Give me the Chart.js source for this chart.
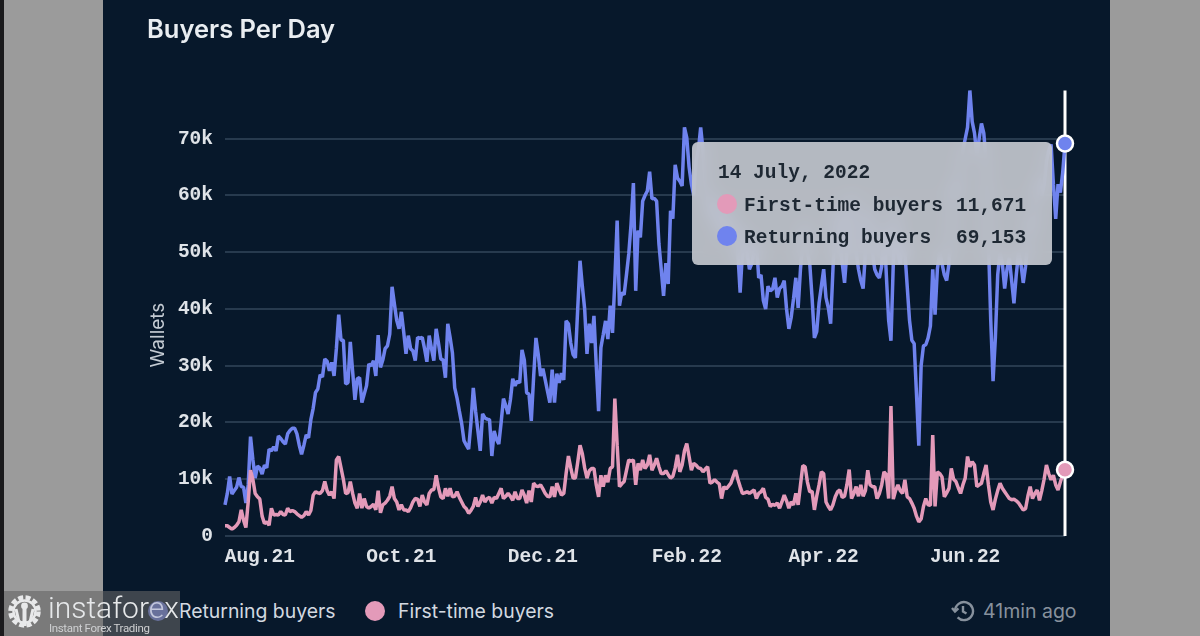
<!DOCTYPE html>
<html>
<head>
<meta charset="utf-8">
<title>Buyers Per Day</title>
<script src="https://cdn.jsdelivr.net/npm/chart.js@4"></script>
<style>
    html, body { margin: 0; padding: 0; width: 1200px; height: 636px; overflow: hidden; background: #9b9b9b; }
    #strip { position: absolute; left: 0; top: 0; width: 4px; height: 636px; background: #1a1a1c; }
    #panel { position: absolute; left: 103px; top: 0; width: 1007px; height: 636px; background: #07182b; }
    #panel canvas { position: absolute; left: 0; top: 0; }
    .label { position: absolute; white-space: nowrap; font-family: Inter, sans-serif; }
    #title { left: 44px; top: 13px; font-size: 25.5px; line-height: 32px; font-weight: 600; color: #e9edf1; }
    #yTitle { left: 55px; top: 335px; font-size: 19px; line-height: 20px; color: #c3cad2; transform: translate(-50%, -50%) rotate(-90deg); }
    .legendItem { top: 599px; font-size: 19.4px; line-height: 24px; color: #d3d9e0; }
    .dot { position: absolute; border-radius: 50%; }
    #updated { left: 880px; top: 599px; font-size: 19.5px; line-height: 24px; color: #87919d; }
    #clock { position: absolute; left: 848px; top: 599px; }
    #tooltip {
        position: absolute; left: 589px; top: 142px; width: 360px; height: 123px;
        border-radius: 6px; background: rgba(200, 203, 210, 0.9); backdrop-filter: blur(8px);
        font-family: "Liberation Mono", monospace; font-size: 19.5px; color: #1e2833; font-weight: 700;
    }
    #tooltip div { position: absolute; white-space: pre; line-height: 24px; }
    #watermark { position: absolute; left: 4px; top: 591px; width: 176px; height: 45px; background: rgba(100, 100, 100, 0.6); }
    #wmName { position: absolute; left: 44px; top: -3px; font-family: Roboto, sans-serif; font-weight: 300; font-size: 30px; line-height: 40px; color: #e6e8ea; white-space: nowrap; }
    #wmName span { color: #c2c6dc; }
    #wmSub { position: absolute; left: 45px; top: 30px; font-family: Roboto, sans-serif; font-size: 11.5px; letter-spacing: -0.35px; line-height: 15px; color: #cfd0d2; white-space: nowrap; }
</style>
</head>
<body>
<div id="strip"></div>
<div id="panel">
    <canvas id="chart" width="1007" height="590"></canvas>
    <div id="title" class="label">Buyers Per Day</div>
    <div id="yTitle" class="label">Wallets</div>
    <span class="dot" style="left:45px;top:601px;width:20px;height:20px;background:#6f83ee"></span>
    <div class="label legendItem" style="left:76px">Returning buyers</div>
    <span class="dot" style="left:262px;top:601px;width:20px;height:20px;background:#e39ab9"></span>
    <div class="label legendItem" style="left:295px">First-time buyers</div>
    <svg id="clock" width="24" height="24" viewBox="0 0 24 24" fill="none" stroke="#87919d" stroke-width="2.4">
        <path d="M4 12a9 9 0 1 1 2.6 6.4"/><path d="M1 9l3 3.6L7.4 9.4"/><path d="M12 7v5.5l3.5 2"/>
    </svg>
    <div id="updated" class="label">41min ago</div>
    <div id="tooltip"></div>
</div>
<div id="watermark">
    <svg style="position:absolute;left:2px;top:2px" width="37" height="37" viewBox="0 0 37 37" fill="none">
        <circle cx="18.5" cy="18.5" r="14" stroke="#e8e9ea" stroke-width="4.5" stroke-dasharray="5 2.4"/>
        <circle cx="18.5" cy="18.5" r="11" stroke="#e8e9ea" stroke-width="2.5"/>
        <circle cx="18.5" cy="13" r="3.4" fill="#e8e9ea"/>
        <path d="M18.5 16v17" stroke="#e8e9ea" stroke-width="4"/>
        <path d="M10 16l3 13M27 16l-3 13" stroke="#e8e9ea" stroke-width="3"/>
    </svg>
    <div id="wmName">instafor<span>e</span>x</div>
    <div id="wmSub">Instant Forex Trading</div>
</div>

<script>
// both series in thousands of wallets, one value per day from 17 Jul 2021 to 14 Jul 2022
const returningBuyers = [
    5.5, 7.5, 10.5, 7.4, 8, 8.6, 10.3, 8.7, 8.6, 5.8,
    9, 17.5, 13.5, 10.2, 12.3, 12, 10.9, 12.5, 12, 15.3,
    15, 15.7, 15, 17.6, 17.2, 16.6, 16.2, 18, 18.6, 19,
    19, 18, 16, 14.4, 16, 17.8, 17.3, 20.5, 22.5, 25.3,
    25.9, 28.4, 28, 31.2, 30.8, 29.1, 30.6, 28.2, 33, 39,
    34.5, 34.5, 26.8, 27, 34.2, 29, 24, 27.7, 27.9, 23.5,
    25, 26.5, 30.3, 30, 30.9, 28.2, 35.4, 29.7, 31, 33,
    33.5, 35.6, 43.9, 40.9, 38, 36.5, 39.5, 36, 32.1, 35.3,
    33, 32.6, 30.9, 35, 34.8, 35, 33, 30.7, 35.3, 33,
    30.9, 36.5, 34, 31.2, 31, 27.9, 37.4, 35, 32.3, 26.1,
    24.3, 22, 19.8, 16.8, 16, 15.3, 20, 26.1, 22, 18.5,
    15, 21.5, 20.8, 20.6, 20.5, 14.1, 18.5, 17, 16.2, 20,
    24.2, 23, 21.5, 24, 27.7, 26.5, 27.3, 27, 32.8, 31,
    25.2, 25, 20.3, 28, 34.9, 32, 28.2, 29.5, 27.5, 25.5,
    23.5, 29.3, 23.5, 28.6, 27, 28.7, 27.5, 37.9, 37.4, 34,
    32, 31.4, 40, 48.5, 44, 40, 32.1, 37.4, 34, 38.8,
    30, 22, 33.2, 35.5, 37.9, 34.7, 40.6, 35.8, 45, 55.6,
    40.6, 42.9, 42.5, 46, 49.7, 55, 62.2, 43.2, 53.8, 52.6,
    59, 60, 60.8, 64.2, 59.4, 59.5, 59, 51.5, 47, 42.3,
    48.1, 44.4, 57.3, 55.9, 65.4, 63.1, 62.5, 61.7, 72, 70.2,
    65, 62, 60, 66, 68, 72, 68, 62, 60, 56,
    58, 60, 55, 53, 56, 58, 55, 52, 54, 56,
    53, 50, 42.9, 50, 54, 50, 47, 48, 50, 52,
    45.5, 46, 41.5, 40, 44, 43.2, 43.5, 45.5, 42, 43.6,
    44, 45, 40, 36.5, 38.5, 41.8, 45.5, 40.2, 47, 52,
    55, 50, 48, 42, 34.9, 36, 41, 44, 47, 42,
    40.2, 37.4, 47, 56, 58, 52, 48, 44.6, 50, 56,
    60, 55, 50, 47, 45, 43.6, 50, 58, 56, 50,
    47, 46, 45.5, 47.5, 55, 46, 38, 34.4, 48, 58,
    50, 48, 52, 50, 44, 38, 34.5, 33.9, 25, 15.9,
    30, 33.5, 33.7, 34.9, 37, 47, 39, 47, 50, 48,
    46, 45, 48, 55, 62, 60, 62, 65, 68, 70,
    72, 78.5, 73, 71, 67, 70, 72.7, 71, 66, 52,
    38, 27.3, 35, 46, 50, 48, 43.6, 47, 49, 45,
    41, 46, 50, 48, 44.6, 47.5, 52, 56, 54, 58,
    60, 63, 60, 62, 66, 68, 69, 62, 55.9, 62,
    60.5, 64, 69.153
];

const firstTimeBuyers = [
    1.8, 1.8, 1.5, 1.2, 1.5, 1.9, 2.5, 4.6, 2.8, 1.5,
    6, 11.6, 10, 7.5, 6.9, 6.5, 3.5, 2.2, 2.5, 1.9,
    4.9, 3.7, 3.8, 3.7, 4.3, 3.8, 3.7, 4.9, 4.3, 4.5,
    4.3, 3.9, 3.6, 3.3, 3.6, 4.3, 3.7, 4.5, 7.2, 7.8,
    7.6, 7.5, 8, 9.6, 8, 7.2, 7.8, 6.6, 13.4, 14,
    12, 10, 7.5, 7.6, 9.6, 7.5, 5.8, 4.9, 7.5, 4.9,
    6.6, 5.2, 4.9, 5.2, 5.6, 4.6, 8, 4.1, 5.5, 5.8,
    6.3, 7, 8.7, 6.6, 6, 4.6, 5.5, 4.6, 4.6, 4.3,
    5, 6, 6.6, 6.5, 5.2, 7.2, 6, 5.5, 7.5, 8.1,
    8.2, 10.7, 8.5, 6.9, 6.6, 8.4, 7, 8.4, 6.9, 7,
    7.8, 6.8, 6, 5.2, 4.8, 4, 4.5, 5.2, 6.8, 5.2,
    6, 7.2, 6, 6.6, 6.8, 5.8, 6.8, 6.6, 7.5, 8.4,
    6.6, 7, 7.5, 7, 6.3, 7.8, 6.6, 6.6, 8.1, 7.2,
    5.8, 8, 6, 9.3, 8.8, 8.7, 9, 8.3, 7.5, 7,
    6.9, 8.7, 6.9, 9.3, 8.2, 7.2, 7.5, 11, 14.1, 12,
    10.2, 10.2, 13, 16, 14.5, 12, 10.2, 11.5, 11.9, 11.9,
    9, 6.9, 10.7, 8.7, 10.7, 9.5, 11.9, 12.2, 24.2, 16,
    8.7, 9.2, 9.6, 11.5, 13.4, 13.2, 13.4, 9, 12.8, 11.6,
    13.4, 11.9, 12.5, 14.3, 11.6, 12.5, 13.7, 12.2, 11, 11,
    11.5, 10.8, 10.2, 10.5, 12, 14.3, 11.3, 12.5, 15, 16.3,
    14, 11.6, 12.8, 12.5, 12, 11.9, 11.3, 11.8, 12.2, 9.3,
    9.5, 9.9, 9.5, 9.2, 6.6, 8.7, 8.3, 8.8, 9.3, 10.5,
    11.6, 10, 8.7, 7.5, 7.6, 7.8, 7.5, 7.8, 8.1, 6.6,
    7.5, 7.8, 8.4, 6.8, 6.5, 5.2, 5.6, 5.4, 5.8, 4.9,
    6, 7.2, 6.2, 4.9, 6, 5.5, 7.5, 5.5, 9, 12.4,
    12.2, 9.5, 7.8, 7.9, 4.6, 7, 9, 11.3, 11, 6,
    5.2, 4.6, 5.5, 6.9, 7.8, 8.1, 6.8, 7, 9, 11.7,
    6.6, 7.5, 8.7, 7, 9, 7, 8, 11.6, 9, 8.7,
    8.7, 6.6, 7.5, 9, 11.3, 10.8, 6.6, 22.9, 6.5, 8,
    9, 8, 7.5, 9.9, 6.9, 6.6, 5.8, 4.9, 3.5, 2.5,
    3, 5.2, 6.6, 5.5, 5.4, 17.8, 5.2, 11.3, 11, 10.4,
    6.9, 7.6, 8.4, 11.9, 10, 9.6, 8.5, 7.5, 9, 10.2,
    14, 12.2, 13.1, 12.5, 8.7, 9, 9.3, 11, 12.5, 9,
    6, 4.6, 6.5, 8, 9.3, 8.4, 7.8, 7.2, 6.6, 6.4,
    6.5, 6.2, 5.8, 5.2, 4.6, 4.8, 7, 8.7, 6.6, 7.5,
    8.1, 6.3, 8, 10, 12.5, 11, 9.9, 10.7, 9, 8.1,
    9.5, 10.8, 11.671
];

// which day index carries which x tick label
const monthTicks = { 15: "Aug.21", 76: "Oct.21", 137: "Dec.21", 199: "Feb.22", 258: "Apr.22", 319: "Jun.22" };
const dayLabels = returningBuyers.map((_, index) => String(index));
const hoverDate = "14 July, 2022";

const blue = "#6f83ee";
const pink = "#e39ab9";
const lastIndex = dayLabels.length - 1;
const monoFont = { family: "'Liberation Mono', monospace", size: 19.5, weight: "bold" };

const cursorLine = {
    id: "cursorLine",
    beforeDatasetsDraw(chart) {
        const x = chart.scales.x.getPixelForValue(lastIndex);
        const { top, bottom } = chart.chartArea;
        const ctx = chart.ctx;
        ctx.save();
        ctx.strokeStyle = "#ffffff";
        ctx.lineWidth = 3;
        ctx.beginPath();
        ctx.moveTo(x, top);
        ctx.lineTo(x, bottom);
        ctx.stroke();
        ctx.restore();
    }
};

function lineDataset(label, data, color, order) {
    return {
        label,
        data,
        order,
        clip: false,
        borderColor: color,
        borderWidth: 3.5,
        borderJoinStyle: "bevel",
        tension: 0,
        pointRadius: (ctx) => (ctx.dataIndex === lastIndex ? 8 : 0),
        pointBackgroundColor: color,
        pointBorderColor: "#ffffff",
        pointBorderWidth: 2.5
    };
}

new Chart(document.getElementById("chart"), {
    type: "line",
    data: {
        labels: dayLabels,
        datasets: [
            lineDataset("Returning buyers", returningBuyers, blue, 1),
            lineDataset("First-time buyers", firstTimeBuyers, pink, 0)
        ]
    },
    options: {
        responsive: false,
        animation: false,
        events: [],
        layout: { padding: { top: 90.5, right: 45, left: 0, bottom: 0 } },
        plugins: { legend: { display: false }, tooltip: { enabled: false } },
        scales: {
            x: {
                afterFit(scale) { scale.height = 54; },
                grid: { display: false },
                border: { display: false },
                ticks: {
                    autoSkip: false,
                    maxRotation: 0,
                    padding: 1,
                    color: "#dfe3e8",
                    font: monoFont,
                    callback: (value) => monthTicks[value] ?? null
                }
            },
            y: {
                min: 0,
                max: 78.5,
                afterFit(scale) { scale.width = 122; },
                border: { display: false },
                grid: { color: "rgba(170, 195, 220, 0.2)", lineWidth: 2, drawTicks: false },
                ticks: {
                    stepSize: 10,
                    includeBounds: false,
                    padding: 12,
                    color: "#dfe3e8",
                    font: monoFont,
                    callback: (value) => (value === 0 ? "0" : value + "k")
                }
            }
        }
    },
    plugins: [cursorLine]
});

// hover card, filled from the last point of each series
const money = (value) => Math.round(value * 1000).toLocaleString("en-US");
document.getElementById("tooltip").innerHTML =
    '<div style="left:26px;top:19px">' + hoverDate + "</div>" +
    '<span class="dot" style="left:25px;top:52px;width:20px;height:20px;background:' + pink + '"></span>' +
    '<div style="left:52px;top:52px">First-time buyers</div>' +
    '<div style="left:264px;top:52px">' + money(firstTimeBuyers[lastIndex]) + "</div>" +
    '<span class="dot" style="left:25px;top:84px;width:20px;height:20px;background:' + blue + '"></span>' +
    '<div style="left:52px;top:84px">Returning buyers</div>' +
    '<div style="left:264px;top:84px">' + money(returningBuyers[lastIndex]) + "</div>";
</script>
</body>
</html>
